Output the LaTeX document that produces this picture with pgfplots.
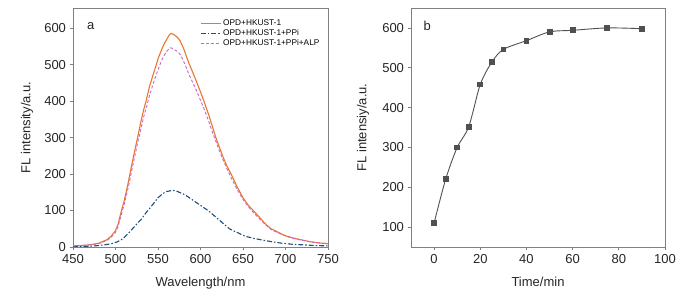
\documentclass[border=0pt]{standalone}
\usepackage{fontspec}
\setmainfont{Liberation Sans}
\usepackage{pgfplots}
\pgfplotsset{compat=1.18}
\definecolor{corange}{HTML}{E8772E}
\definecolor{cblue}{HTML}{1F4E79}
\definecolor{cpink}{HTML}{CC66CC}
\definecolor{cframe}{HTML}{808080}
\definecolor{cgray}{HTML}{505050}
\begin{document}
\begin{tikzpicture}
\useasboundingbox (0,0) rectangle (698pt,296pt);
\pgfplotsset{
  every axis/.append style={
    scale only axis,
    /pgf/number format/assume math mode=true,
    tick label style={font=\fontsize{13}{15}\selectfont, color=black!85},
    label style={font=\fontsize{13}{15}\selectfont, color=black!85},
    axis line style={cframe, line width=0.7pt},
    tick style={cframe, line width=0.7pt},
    major tick length=3.5pt,
    tick align=outside,
    xtick pos=bottom, ytick pos=left,
    minor tick num=0,
  }
}
% ---------- panel a ----------
\begin{axis}[
  at={(73pt,49pt)}, anchor=south west,
  width=255pt, height=239pt,
  xmin=450, xmax=750, ymin=0, ymax=655,
  xtick={450,500,...,750}, ytick={0,100,...,600},
  xlabel={Wavelength/nm}, ylabel={FL intensity/a.u.},
  xlabel style={at={(axis description cs:0.5,-0.151)}, anchor=center},
  ylabel style={at={(axis description cs:-0.18,0.5)}, anchor=center},
  legend style={draw=none, fill=none, at={(0.975,0.96)}, anchor=north east,
    font=\fontsize{8.3}{9.5}\selectfont, row sep=-1.5pt, inner sep=0pt,
    cells={anchor=west}},
  legend image code/.code={\draw[mark repeat=2,mark phase=2] plot coordinates {(0pt,0pt) (10pt,0pt) (20pt,0pt)};},
]
\addplot[corange, line width=1.1pt] coordinates {
(450,3) (460,4) (470,6) (480,10) (490,20) (495,30) (500,45) (503,62) (507,100) (510,125)
(514,165) (517,200) (520,235) (523,268) (526,300) (530,345) (533,375) (536,400) (540,440)
(544,470) (548,500) (551,522) (555,545) (558,560) (561,572) (563,580) (565,585) (567,584)
(570,580) (573,574) (576,565) (580,545) (583,525) (587,500) (591,478) (595,455) (600,425)
(604,400) (610,360) (614,330) (618,300) (622,275) (626,250) (631,222) (636,200) (643,165)
(650,135) (656,115) (662,100) (670,80) (676,64) (683,50) (690,42) (695,36) (701,30)
(710,24) (720,19) (730,14) (740,11) (750,9)
};
\addlegendentry{OPD+HKUST-1}
\addplot[cblue, line width=1.1pt, dash pattern=on 5pt off 2pt on 1.5pt off 2pt] coordinates {
(450,1) (460,1.5) (470,2) (480,4) (490,7) (497,10) (502,14) (507,20) (511,28) (515,37)
(520,50) (525,63) (530,75) (534,88) (538,100) (541,108) (545,120) (550,135) (556,147)
(560,152) (567,155) (571,154) (575,150) (580,145) (585,138) (590,130) (595,122) (600,114)
(605,106) (609,100) (615,88) (620,78) (627,64) (634,50) (640,43) (645,38) (650,32) (655,28)
(664,23) (673,19) (685,14) (697,10) (710,7) (720,6) (735,4) (750,3)
};
\addlegendentry{OPD+HKUST-1+PPi}
\addplot[cpink, line width=0.9pt, dash pattern=on 3pt off 2pt] coordinates {
(450,3) (460,4) (470,6) (480,9) (490,18) (495,27) (500,40) (503,56) (507,90) (510,115)
(514,153) (517,185) (520,220) (523,252) (526,285) (530,325) (533,355) (536,380) (540,415)
(544,445) (548,472) (551,492) (555,515) (558,528) (561,538) (563,543) (565,546) (567,544)
(570,540) (573,536) (576,528) (580,510) (583,493) (587,470) (591,450) (595,430) (600,402)
(604,380) (610,342) (614,315) (618,290) (622,265) (626,242) (631,215) (636,190) (643,158)
(650,130) (656,111) (662,95) (670,76) (676,62) (683,48) (690,40) (695,35) (701,29)
(710,23) (720,18) (730,14) (740,11) (750,9)
};
\addlegendentry{OPD+HKUST-1+PPi+ALP}
\node[font=\fontsize{13}{15}\selectfont, color=black!85] at (axis cs:471,605) {a};
\end{axis}
% ---------- panel b ----------
\begin{axis}[
  at={(411pt,49pt)}, anchor=south west,
  width=254pt, height=239pt,
  xmin=-10, xmax=100, ymin=50, ymax=650,
  xtick={0,20,...,100}, ytick={100,200,...,600},
  xlabel={Time/min}, ylabel={FL intensiy/a.u.},
  xlabel style={at={(axis description cs:0.5,-0.147)}, anchor=center},
  ylabel style={at={(axis description cs:-0.189,0.5)}, anchor=center},
]
\addplot[cgray, line width=0.9pt, smooth, tension=0.5, mark=square*,
  mark size=2.4pt, mark options={solid, fill=cgray, draw=cgray}] coordinates {
(0,110) (5,220) (10,300) (15,352) (20,458) (25,514) (30,546) (40,568) (50,590) (60,594) (75,600) (90,598)
};
\node[font=\fontsize{13}{15}\selectfont, color=black!85] at (axis cs:-3,605) {b};
\end{axis}
\end{tikzpicture}
\end{document}
